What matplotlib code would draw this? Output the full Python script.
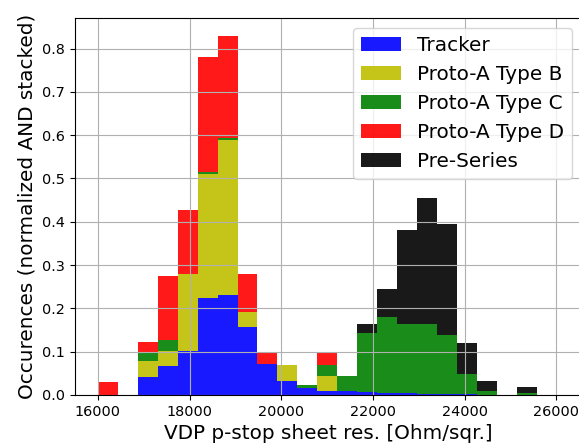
import matplotlib
matplotlib.use("Agg")
import matplotlib.pyplot as plt
import numpy as np

# histogram binning: 22 bins from 16000 to 25570 Ohm/sqr.
bin_lo, bin_hi, n_bins = 16000, 25570, 22

# normalized bin contents per sample (each series sums to ~1)
tracker = [0, 0, 0.042, 0.067, 0.101, 0.224, 0.231, 0.156, 0.072, 0.033, 0.017,
           0.010, 0.009, 0.006, 0.005, 0.004, 0.003, 0.003, 0.003, 0, 0, 0]
type_b = [0, 0, 0.036, 0.035, 0.179, 0.286, 0.357, 0.036, 0, 0.036, 0,
          0.035, 0, 0, 0, 0, 0, 0, 0, 0, 0, 0]
type_c = [0, 0, 0.018, 0.025, 0, 0.005, 0.006, 0, 0, 0, 0.005,
          0.025, 0.035, 0.138, 0.175, 0.161, 0.162, 0.135, 0.045, 0.010, 0, 0.005]
type_d = [0.029, 0, 0.026, 0.147, 0.147, 0.265, 0.235, 0.088, 0.025, 0, 0,
          0.028, 0, 0, 0, 0, 0, 0, 0, 0, 0, 0]
pre_series = [0, 0, 0, 0, 0, 0, 0, 0, 0, 0, 0,
              0, 0, 0.021, 0.064, 0.217, 0.290, 0.256, 0.073, 0.023, 0, 0.013]

labels = ['Tracker', 'Proto-A Type B', 'Proto-A Type C', 'Proto-A Type D', 'Pre-Series']
colors = ['b', 'y', 'g', 'r', 'k']

edges = np.linspace(bin_lo, bin_hi, n_bins + 1)
centers = 0.5 * (edges[:-1] + edges[1:])
weights = [tracker, type_b, type_c, type_d, pre_series]

fig = plt.figure(figsize=(5.79, 4.47), dpi=100)
xmin, xmax = 15500, 26550
px_per_unit = 91.7 / 2000
ax = fig.add_axes([75 / 579, 52 / 447, (xmax - xmin) * px_per_unit / 579, 377 / 447])

ax.hist([centers] * len(weights), bins=edges, weights=weights, stacked=True,
        color=colors, alpha=0.9, label=labels)

ax.set_xlim(xmin, xmax)
ax.set_xticks([16000, 18000, 20000, 22000, 24000, 26000])
ax.grid(True)
ax.tick_params(labelsize=10.4)
ax.set_xlabel('VDP p-stop sheet res. [Ohm/sqr.]', fontsize=14.4)
ax.set_ylabel('Occurences (normalized AND stacked)', fontsize=14.4)
ax.legend(fontsize=14.4, loc='upper right')

fig.savefig('out.png', dpi=100)
